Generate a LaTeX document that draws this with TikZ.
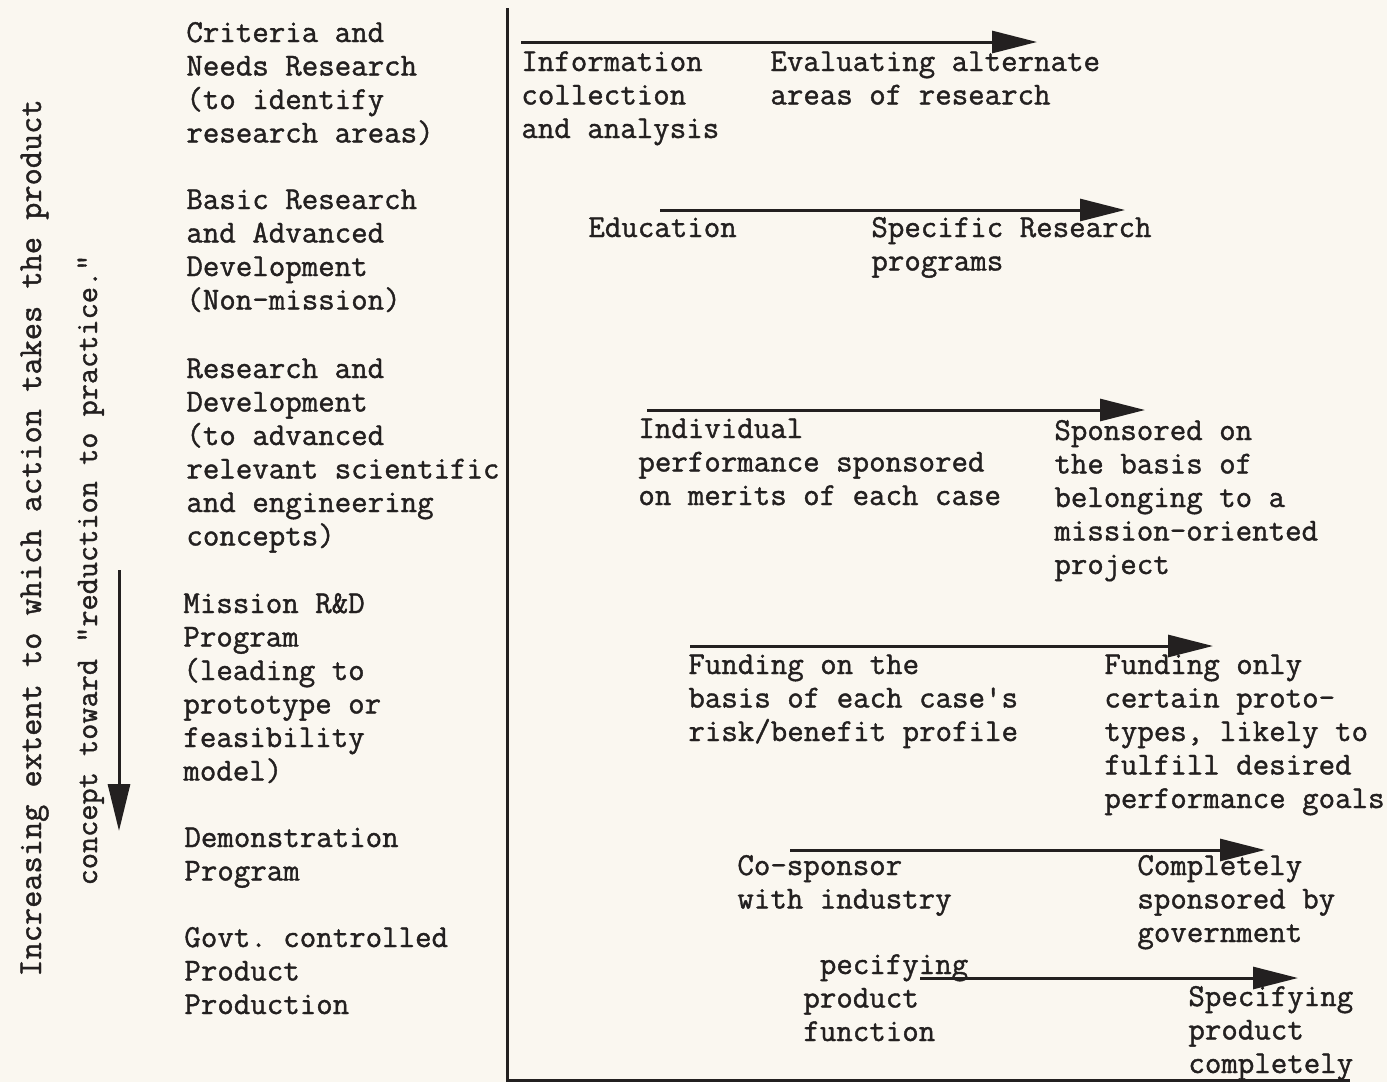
\documentclass[tikz,border=0pt]{standalone}
\usepackage{fontspec}
\setmonofont{Latin Modern Mono}[FakeBold=1.2]
\usetikzlibrary{arrows.meta}
\definecolor{paper}{RGB}{250,247,240}
\definecolor{ink}{RGB}{35,32,32}
\tikzset{
  txt/.style={anchor=base west,inner sep=0pt,align=left,text=ink,
    font=\ttfamily\fontsize{16}{16.75}\selectfont},
  rottxt/.style={anchor=base,inner sep=0pt,rotate=90,text=ink,
    font=\ttfamily\fontsize{15.7}{16.75}\selectfont},
  flow/.style={draw=ink,line width=1.5pt,-{Triangle[length=22.5pt,width=11pt]}},
  frame/.style={draw=ink,line width=1.5pt}
}
\begin{document}
\begin{tikzpicture}[x=0.5pt,y=-0.5pt]
\fill[paper] (0,0) rectangle (1387,1082);
\useasboundingbox (0,0) rectangle (1387,1082);
% frame
\coordinate (ftop) at (507,8);
\coordinate (fcorner) at (507,1080);
\coordinate (fright) at (1350,1080);
\draw[frame] (ftop) -- (fcorner) -- (fright);
% rotated side labels
\node[rottxt,font=\ttfamily\fontsize{16.7}{17}\selectfont] (side1) at (41,538) {Increasing extent to which action takes the product};
\node[rottxt] (side2) at (97,570) {concept toward "reduction to practice."};
\coordinate (vs) at (119,570);
\coordinate (ve) at (119,831);
\draw[draw=ink,line width=1.5pt,-{Triangle[length=23.5pt,width=11pt]}] (vs) -- (ve);
% left column (anchored at the baseline of the last line)
\node[txt] (c1) at (186,142.5) {Criteria and\\Needs Research\\(to identify\\research areas)};
\node[txt] (c2) at (186,309.5) {Basic Research\\and Advanced\\Development\\(Non-mission)};
\node[txt] (c3) at (186,545.5) {Research and\\Development\\(to advanced\\relevant scientific\\and engineering\\concepts)};
\node[txt] (c4) at (183,780.5) {Mission R\&D\\Program\\(leading to\\prototype or\\feasibility\\model)};
\node[txt] (c5) at (184,880.5) {Demonstration\\Program};
\node[txt] (c6) at (184,1014) {Govt. controlled\\Product\\Production};
% row 1
\coordinate (a1s) at (521,42);
\coordinate (a1e) at (1037,42);
\draw[flow] (a1s) -- (a1e);
\node[txt] (r1a) at (521,138) {Information\\collection\\and analysis};
\node[txt] (r1b) at (770,104.5) {Evaluating alternate\\areas of research};
% row 2
\coordinate (a2s) at (660,210);
\coordinate (a2e) at (1125,210);
\draw[flow] (a2s) -- (a2e);
\node[txt] (r2a) at (588,237) {Education};
\node[txt] (r2b) at (871,270.5) {Specific Research\\programs};
% row 3
\coordinate (a3s) at (647,410);
\coordinate (a3e) at (1145,410);
\draw[flow] (a3s) -- (a3e);
\node[txt] (r3a) at (638,505) {Individual\\performance sponsored\\on merits of each case};
\node[txt] (r3b) at (1054,574) {Sponsored on\\the basis of\\belonging to a\\mission-oriented\\project};
% row 4
\coordinate (a4s) at (690,646);
\coordinate (a4e) at (1213,646);
\draw[flow] (a4s) -- (a4e);
\node[txt] (r4a) at (688,741) {Funding on the\\basis of each case's\\risk/benefit profile};
\node[txt] (r4b) at (1104,808) {Funding only\\certain proto-\\types, likely to\\fulfill desired\\performance goals};
% row 5
\coordinate (a5s) at (790,850);
\coordinate (a5e) at (1265,850);
\draw[flow] (a5s) -- (a5e);
\node[txt] (r5a) at (737,908.5) {Co-sponsor\\with industry};
\node[txt] (r5b) at (1137,942) {Completely\\sponsored by\\government};
% row 6
\coordinate (a6s) at (920,978);
\coordinate (a6e) at (1298,978);
\draw[flow] (a6s) -- (a6e);
\node[txt] (r6a) at (803,1041) {\hphantom{S}pecifying\\product\\function};
\node[txt] (r6b) at (1188,1073) {Specifying\\product\\completely};
\end{tikzpicture}
\end{document}
